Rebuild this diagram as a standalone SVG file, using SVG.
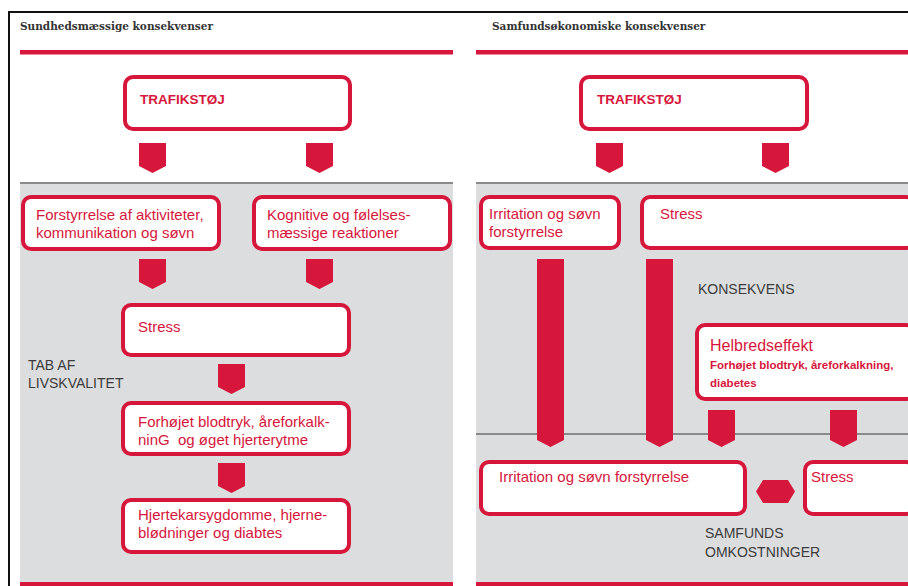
<svg xmlns="http://www.w3.org/2000/svg" width="908" height="586" viewBox="0 0 908 586">
<style>
.box{fill:#fff;stroke:#d6163a;stroke-width:4}
.t{font-family:"Liberation Sans",Arial,sans-serif;font-size:15px;fill:#d6163a}
.tb{font-family:"Liberation Sans",Arial,sans-serif;font-size:13.5px;font-weight:bold;fill:#d6163a}
.g{font-family:"Liberation Sans",Arial,sans-serif;font-size:14px;fill:#3c3c3c}
.h{font-family:"DejaVu Serif","Liberation Serif",serif;font-size:10.5px;font-weight:bold;fill:#333}
.red{fill:#d6163a}
.bg{fill:#dcdddf}
.sep{stroke:#8a8a8a;stroke-width:2}
</style>
<defs>
<path id="arr" d="M0,0 H27 V23 L13.5,30 L0,23 Z"/>
</defs>
<rect width="908" height="586" fill="#fff"/>
<g id="frame">
<line x1="8" y1="12" x2="908" y2="12" stroke="#111" stroke-width="2"/>
<line x1="9" y1="12" x2="9" y2="586" stroke="#111" stroke-width="2"/>
<text class="h" x="20" y="30">Sundhedsmæssige konsekvenser</text>
<text class="h" x="492" y="30">Samfundsøkonomiske konsekvenser</text>
<rect class="red" x="20" y="50" width="433" height="4.5"/>
<rect class="red" x="476" y="50" width="432" height="4.5"/>
<rect class="bg" x="20" y="183" width="433" height="400"/>
<rect class="bg" x="476" y="183" width="432" height="400"/>
<line class="sep" x1="20" y1="183" x2="453" y2="183"/>
<line class="sep" x1="476" y1="183" x2="908" y2="183"/>
<line class="sep" x1="476" y1="434" x2="908" y2="434"/>
<rect class="red" x="20" y="582" width="433" height="4"/>
<rect class="red" x="476" y="582" width="432" height="4"/>
<text class="g" x="28" y="370">TAB AF</text>
<text class="g" x="28" y="388">LIVSKVALITET</text>
<text class="g" x="698" y="294">KONSEKVENS</text>
<text class="g" x="705" y="538">SAMFUNDS</text>
<text class="g" x="705" y="557">OMKOSTNINGER</text>
</g>
<g id="connectors" class="red">
<use href="#arr" x="139" y="143"/>
<use href="#arr" x="306" y="143"/>
<use href="#arr" x="139" y="259"/>
<use href="#arr" x="306" y="259"/>
<use href="#arr" x="218" y="364"/>
<use href="#arr" x="218" y="463"/>
<use href="#arr" x="596" y="143"/>
<use href="#arr" x="762" y="143"/>
<path d="M537,259 H564 V440 L550.5,447 L537,440 Z"/>
<path d="M646,259 H673 V440 L659.5,447 L646,440 Z"/>
<path d="M708,410 H735 V440 L721.5,447 L708,440 Z"/>
<path d="M830,410 H857 V440 L843.5,447 L830,440 Z"/>
<polygon points="756,491.5 763,480 788,480 795,491.5 788,503 763,503"/>
</g>
<g id="n-trafik-left">
<rect class="box" x="125" y="77" width="225" height="52" rx="8"/>
<text class="tb" x="140" y="104">TRAFIKSTØJ</text>
</g>
<g id="n-forstyrrelse">
<rect class="box" x="23" y="197" width="196" height="52" rx="8"/>
<text class="t" x="36" y="220">Forstyrrelse af aktiviteter,</text>
<text class="t" x="36" y="238">kommunikation og søvn</text>
</g>
<g id="n-kognitive">
<rect class="box" x="254" y="197" width="196" height="52" rx="8"/>
<text class="t" x="267" y="220">Kognitive og følelses-</text>
<text class="t" x="267" y="238">mæssige reaktioner</text>
</g>
<g id="n-stress-left">
<rect class="box" x="123" y="305" width="226" height="50" rx="8"/>
<text class="t" x="138" y="332">Stress</text>
</g>
<g id="n-forhoejet">
<rect class="box" x="123" y="403" width="226" height="51" rx="8"/>
<text class="t" x="138" y="427">Forhøjet blodtryk, åreforkalk-</text>
<text class="t" x="138" y="445">ninG&#160; og øget hjerterytme</text>
</g>
<g id="n-hjertekar">
<rect class="box" x="123" y="500" width="226" height="52" rx="8"/>
<text class="t" x="138" y="520">Hjertekarsygdomme, hjerne-</text>
<text class="t" x="138" y="538">blødninger og diabtes</text>
</g>
<g id="n-trafik-right">
<rect class="box" x="581" y="77" width="226" height="52" rx="8"/>
<text class="tb" x="597" y="104">TRAFIKSTØJ</text>
</g>
<g id="n-irritation-top">
<rect class="box" x="481" y="197" width="138" height="51" rx="8"/>
<text class="t" x="489" y="219">Irritation og søvn</text>
<text class="t" x="489" y="237">forstyrrelse</text>
</g>
<g id="n-stress-top">
<rect class="box" x="642" y="197" width="272" height="51" rx="8"/>
<text class="t" x="660" y="219">Stress</text>
</g>
<g id="n-helbred">
<rect class="box" x="697" y="325" width="217" height="74" rx="8"/>
<text class="t" x="710" y="351" style="font-size:16px">Helbredseffekt</text>
<text class="t" x="710" y="369" style="font-size:11.5px;font-weight:bold">Forhøjet blodtryk, åreforkalkning,</text>
<text class="t" x="710" y="387" style="font-size:11.5px;font-weight:bold">diabetes</text>
</g>
<g id="n-irritation-bottom">
<rect class="box" x="481" y="462" width="264" height="52" rx="8"/>
<text class="t" x="499" y="482">Irritation og søvn forstyrrelse</text>
</g>
<g id="n-stress-bottom">
<rect class="box" x="805" y="462" width="109" height="52" rx="8"/>
<text class="t" x="811" y="482">Stress</text>
</g>
</svg>
